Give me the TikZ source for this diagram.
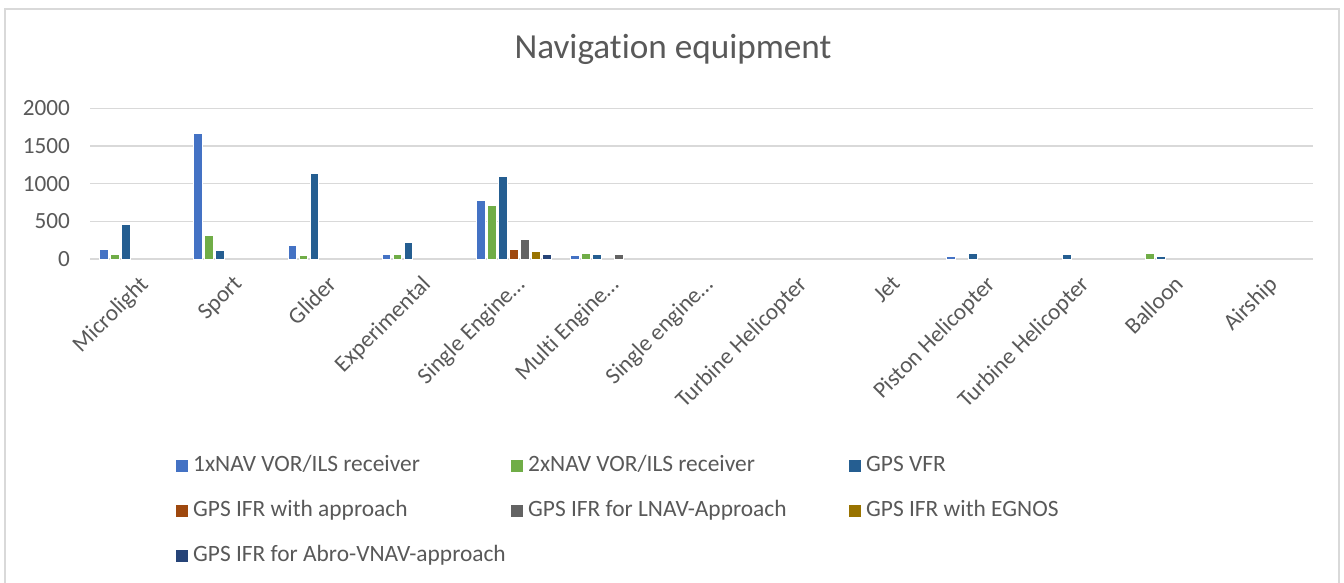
\documentclass[tikz,border=0pt]{standalone}
\usepackage{fontspec}
\setmainfont{Carlito}[Ligatures=CommonOff]
\definecolor{ser1}{HTML}{4472C4}
\definecolor{ser2}{HTML}{70AD47}
\definecolor{ser3}{HTML}{255E91}
\definecolor{ser4}{HTML}{9E480E}
\definecolor{ser5}{HTML}{636363}
\definecolor{ser6}{HTML}{997300}
\definecolor{ser7}{HTML}{264478}
\definecolor{txtgray}{HTML}{595959}
\definecolor{gridgray}{HTML}{D9D9D9}
\begin{document}
\begin{tikzpicture}[x=1pt,y=-1pt,
  gridline/.style={gridgray,line width=1.4pt},
  frameline/.style={gridgray,line width=1.6pt},
  barfill/.style={draw=white,line width=0.5pt},
  axislab/.style={text=txtgray,inner sep=0pt,font=\fontsize{23.2}{27}\selectfont},
  catlab/.style={text=txtgray,inner sep=0pt,rotate=45,anchor=north east,font=\fontsize{23.2}{27}\selectfont},
  legtext/.style={text=txtgray,inner sep=0pt,anchor=base west,font=\fontsize{23.4}{27}\selectfont},
  legkey/.style={minimum size=12pt,inner sep=0pt,outer sep=0pt},
  charttitle/.style={text=txtgray,inner sep=0pt,anchor=base,font=\fontsize{35.2}{40}\selectfont}]
\useasboundingbox (0,0) rectangle (1344,583);
\fill[white] (0,0) rectangle (1344,583);
% chart frame (open at the bottom)
\draw[frameline] (5,584) -- (5,9) -- (1339,9) -- (1339,584);
% title
\node[charttitle] (title) at (673,58.5) {Navigation equipment};
% value axis: gridlines and labels
\foreach \v in {0,500,1000,1500,2000}{
  \pgfmathsetmacro{\yy}{259-\v*0.07535}
  \draw[gridline] (90,\yy) -- (1313,\yy);
  \node[axislab,anchor=east] (ylab\v) at (70,\yy) {\v};
}
% bars: one group per category, seven series each
\foreach \vals [count=\i] in {
  {130,66,455,0,0,0,0},
  {1668,318,115,0,0,0,0},
  {186,49,1141,0,0,0,0},
  {66,66,216,0,0,0,0},
  {779,713,1101,129,265,97,66},
  {49,80,66,0,66,0,0},
  {0,0,0,0,0,0,0},
  {0,0,0,0,0,0,0},
  {0,0,0,0,0,0,0},
  {30,0,80,0,0,0,0},
  {0,0,66,0,0,0,0},
  {0,80,30,0,0,0,0},
  {0,0,0,0,0,0,0}}{
  \foreach \v [count=\k] in \vals {
    \ifnum\v>0
      \pgfmathsetmacro{\xc}{90+94.08*(\i-0.5)+(\k-4)*11}
      \pgfmathsetmacro{\yt}{259-\v*0.07535}
      \fill[ser\k,barfill] (\xc-4.4,259) rectangle (\xc+4.4,\yt);
    \fi
  }
}
% category labels
\foreach \name [count=\i] in {Microlight,Sport,Glider,Experimental,Single Engine…,Multi Engine…,Single engine…,Turbine Helicopter,Jet,Piston Helicopter,Turbine Helicopter,Balloon,Airship}{
  \node[catlab] (cat\i) at ({90+94.08*(\i-0.5)+1},274) {\name};
}
% legend
\foreach \lab/\col/\lx/\ly [count=\n] in {
  {1xNAV VOR/ILS receiver}/ser1/176/466,
  {2xNAV VOR/ILS receiver}/ser2/511/466,
  {GPS VFR}/ser3/849/466,
  {GPS IFR with approach}/ser4/176/511,
  {GPS IFR for LNAV-Approach}/ser5/511/511,
  {GPS IFR with EGNOS}/ser6/849/511,
  {GPS IFR for Abro-VNAV-approach}/ser7/176/556}{
  \node[legkey,fill=\col,anchor=west] (key\n) at (\lx,\ly) {};
  \node[legtext] (leg\n) at (\lx+17,\ly+5.5) {\lab};
}
\end{tikzpicture}
\end{document}
